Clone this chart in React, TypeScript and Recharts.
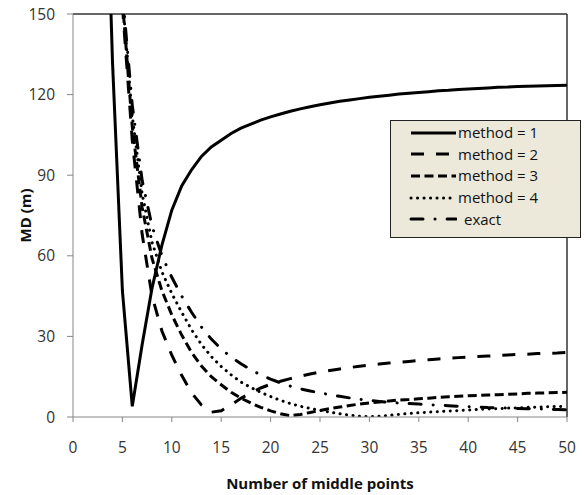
import React from 'react';
import { LineChart, Line, XAxis, YAxis, ReferenceLine } from 'recharts';

// number of middle points
const xValues = [
  3, 4, 5, 6, 7, 8, 9, 10, 11, 12, 13, 14, 15, 16, 17, 18, 19, 20, 21, 22, 23, 24, 25, 26, 27,
  28, 29, 30, 31, 32, 33, 34, 35, 36, 37, 38, 39, 40, 41, 42, 43, 44, 45, 46, 47, 48, 49, 50,
];

// MD (m) per method
const method1 = [
  250, 132, 47, 4, 27, 48, 64, 77, 86, 92, 97, 100.5, 103, 105.5, 107.5, 109, 110.5, 111.7,
  112.8, 113.8, 114.7, 115.5, 116.2, 116.9, 117.5, 118, 118.5, 119, 119.4, 119.8, 120.2, 120.5,
  120.8, 121.1, 121.4, 121.6, 121.9, 122.1, 122.3, 122.5, 122.7, 122.8, 123, 123.1, 123.2,
  123.3, 123.4, 123.5,
];
const method2 = [
  null, null, 153, 103, 68, 45, 32, 23, 15.5, 9, 4.5, 1.8, 2.3, 4.5, 7, 9, 10.8, 12.2, 13.3,
  14.3, 15.2, 16, 16.7, 17.3, 17.9, 18.4, 18.9, 19.3, 19.7, 20.1, 20.4, 20.7, 21, 21.3, 21.6,
  21.8, 22.1, 22.3, 22.5, 22.7, 22.9, 23.1, 23.3, 23.4, 23.6, 23.7, 23.8, 24,
];
const method3 = [
  null, null, 155, 108, 78, 59, 47, 38, 30.5, 24, 19, 15, 12, 9.2, 7, 5.2, 3.6, 2.3, 1.2, 0.5,
  0.9, 1.7, 2.4, 3.1, 3.7, 4.3, 4.8, 5.2, 5.6, 6, 6.3, 6.5, 6.8, 7, 7.3, 7.5, 7.7, 7.9, 8, 8.2,
  8.3, 8.5, 8.6, 8.8, 8.9, 9, 9.1, 9.2,
];
const method4 = [
  null, null, 156, 112, 83, 65, 54, 46, 39, 32.5, 27, 22.5, 18.8, 15.7, 13, 11, 9.2, 7.6, 6.2, 5,
  4, 3.2, 2.5, 1.8, 1.2, 0.7, 0.3, 0.1, 0.3, 0.6, 1, 1.3, 1.6, 1.8, 2, 2.2, 2.4, 2.6, 2.8, 3,
  3.1, 3.3, 3.4, 3.6, 3.7, 3.8, 3.9, 4,
];
const exact = [
  null, null, 158, 116, 88, 71, 60, 52, 45, 39, 33.5, 29, 25.3, 22.3, 19.8, 17.6, 15.7, 14.1,
  12.7, 11.5, 10.5, 9.7, 9, 8.3, 7.7, 7.1, 6.6, 6.2, 5.8, 5.5, 5.2, 5, 4.8, 4.6, 4.4, 4.2, 4,
  3.8, 3.7, 3.5, 3.4, 3.3, 3.2, 3.1, 3, 2.9, 2.8, 2.7,
];

const xTicks = [0, 5, 10, 15, 20, 25, 30, 35, 40, 45, 50];
const yTicks = [0, 30, 60, 90, 120, 150];

const seriesNames = ['method = 1', 'method = 2', 'method = 3', 'method = 4', 'exact'];

const data = xValues.map((x, i) => ({
  x,
  m1: method1[i],
  m2: method2[i],
  m3: method3[i],
  m4: method4[i],
  exact: exact[i],
}));

const FONT = '"Open Sans", "Liberation Sans", sans-serif';

const series = [
  { key: 'm1', name: seriesNames[0], dash: undefined, cap: 'butt' },
  { key: 'm2', name: seriesNames[1], dash: '13 12', cap: 'butt' },
  { key: 'm3', name: seriesNames[2], dash: '9 4.5', cap: 'butt' },
  { key: 'm4', name: seriesNames[3], dash: '0.1 6.4', cap: 'round' },
  { key: 'exact', name: seriesNames[4], dash: '12 12 0.1 12', cap: 'round' },
];

// legend drawn as an overlay so it does not shrink the plot area
function LegendBox() {
  return (
    <div
      style={{
        position: 'absolute',
        left: 390,
        top: 120,
        width: 189,
        height: 115,
        background: '#ECE9DA',
        border: '1px solid #222',
        fontFamily: FONT,
        fontSize: 15,
        color: '#111',
        paddingTop: 1,
      }}
    >
      {series.map((s) => (
        <div key={s.key} style={{ height: 21.6, display: 'flex', alignItems: 'center' }}>
          <svg width={66} height={10} style={{ flex: 'none' }}>
            <line
              x1={20}
              x2={65}
              y1={5}
              y2={5}
              stroke="#000"
              strokeWidth={3}
              strokeDasharray={s.dash}
              strokeLinecap={s.cap as any}
            />
          </svg>
          <span style={{ marginLeft: s.key === 'exact' ? 7 : 1, lineHeight: 1 }}>{s.name}</span>
        </div>
      ))}
    </div>
  );
}

export default function App() {
  return (
    <div style={{ position: 'absolute', left: 0, top: 0, width: 586, height: 495, background: '#fff' }}>
      <LineChart width={586} height={495} data={data} margin={{ top: 14, right: 19, left: 0, bottom: 0 }}>
        <XAxis
          dataKey="x"
          type="number"
          domain={[0, 50]}
          ticks={xTicks}
          allowDataOverflow
          stroke="#868686"
          tickSize={5}
          tickMargin={20}
          height={78}
          tick={{ fill: '#333', fontSize: 15.5, fontFamily: FONT }}
          label={{
            content: ({ viewBox }: any) => (
              <text
                x={viewBox.x + viewBox.width / 2}
                y={viewBox.y + 72}
                textAnchor="middle"
                fontFamily={FONT}
                fontWeight="bold"
                fontSize={15}
                fill="#111"
              >
                Number of middle points
              </text>
            ),
          }}
        />
        <YAxis
          type="number"
          domain={[0, 150]}
          ticks={yTicks}
          allowDataOverflow
          width={73}
          stroke="#868686"
          tickSize={6}
          tickMargin={12}
          tick={{ fill: '#333', fontSize: 15.5, fontFamily: FONT }}
          label={{
            content: ({ viewBox }: any) => {
              const cy = viewBox.y + viewBox.height / 2;
              return (
                <text
                  x={25}
                  y={cy}
                  transform={`rotate(-90 25 ${cy})`}
                  textAnchor="middle"
                  dominantBaseline="central"
                  fontFamily={FONT}
                  fontWeight="bold"
                  fontSize={15}
                  fill="#111"
                >
                  MD (m)
                </text>
              );
            },
          }}
        />
        <ReferenceLine y={150} stroke="#333" strokeWidth={1.5} />
        <ReferenceLine x={50} stroke="#333" strokeWidth={1.5} />
        {series.map((s) => (
          <Line
            key={s.key}
            dataKey={s.key}
            name={s.name}
            type="linear"
            stroke="#000"
            strokeWidth={3}
            strokeDasharray={s.dash}
            strokeLinecap={s.cap as any}
            dot={false}
            activeDot={false}
            isAnimationActive={false}
          />
        ))}
      </LineChart>
      <LegendBox />
    </div>
  );
}
